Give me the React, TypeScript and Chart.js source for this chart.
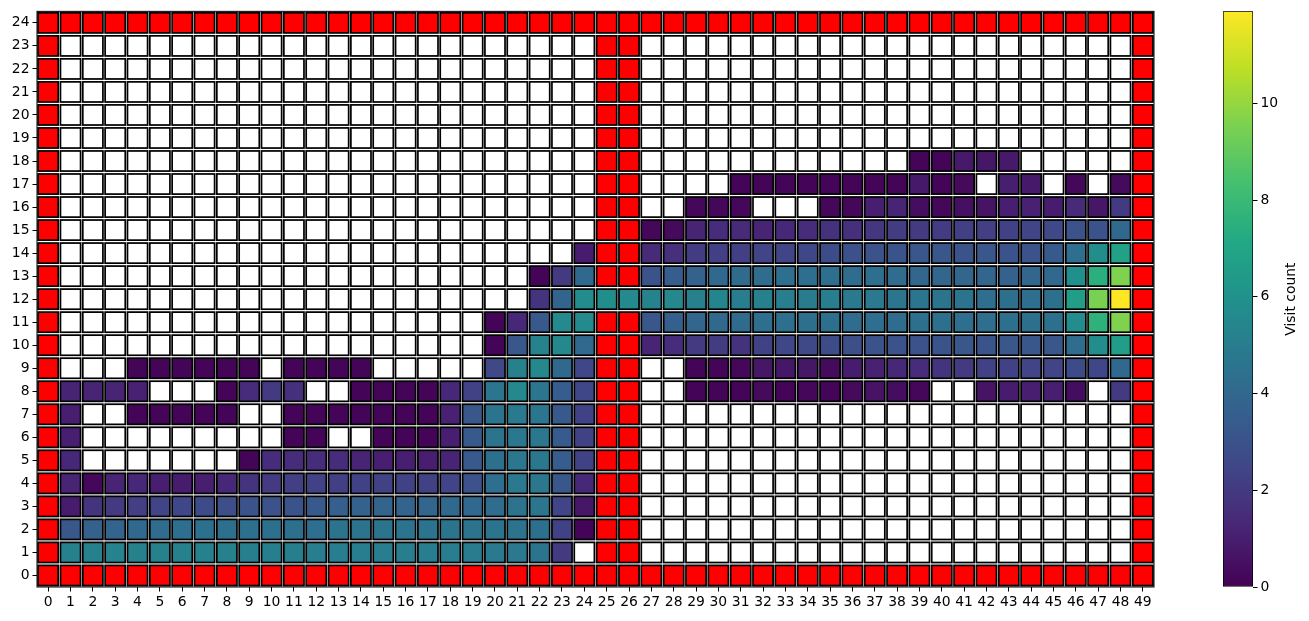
import React, { useEffect, useRef } from "react";
import { Chart, registerables } from "chart.js";
Chart.register(...registerables);

const W = -1; // wall cell
const _ = null; // unvisited cell

const xLabels = ["0","1","2","3","4","5","6","7","8","9","10","11","12","13","14","15","16","17","18","19","20","21","22","23","24","25","26","27","28","29","30","31","32","33","34","35","36","37","38","39","40","41","42","43","44","45","46","47","48","49"];
const yLabels = ["0","1","2","3","4","5","6","7","8","9","10","11","12","13","14","15","16","17","18","19","20","21","22","23","24"];
const colorbarTicks = [0, 2, 4, 6, 8, 10];
const colorMax = 11.9;
const colorbarTitle = "Visit count";

const r24 = [W,W,W,W,W,W,W,W,W,W, W,W,W,W,W,W,W,W,W,W, W,W,W,W,W,W,W,W,W,W, W,W,W,W,W,W,W,W,W,W, W,W,W,W,W,W,W,W,W,W];
const r23 = [W,_,_,_,_,_,_,_,_,_, _,_,_,_,_,_,_,_,_,_, _,_,_,_,_,W,W,_,_,_, _,_,_,_,_,_,_,_,_,_, _,_,_,_,_,_,_,_,_,W];
const r22 = [W,_,_,_,_,_,_,_,_,_, _,_,_,_,_,_,_,_,_,_, _,_,_,_,_,W,W,_,_,_, _,_,_,_,_,_,_,_,_,_, _,_,_,_,_,_,_,_,_,W];
const r21 = [W,_,_,_,_,_,_,_,_,_, _,_,_,_,_,_,_,_,_,_, _,_,_,_,_,W,W,_,_,_, _,_,_,_,_,_,_,_,_,_, _,_,_,_,_,_,_,_,_,W];
const r20 = [W,_,_,_,_,_,_,_,_,_, _,_,_,_,_,_,_,_,_,_, _,_,_,_,_,W,W,_,_,_, _,_,_,_,_,_,_,_,_,_, _,_,_,_,_,_,_,_,_,W];
const r19 = [W,_,_,_,_,_,_,_,_,_, _,_,_,_,_,_,_,_,_,_, _,_,_,_,_,W,W,_,_,_, _,_,_,_,_,_,_,_,_,_, _,_,_,_,_,_,_,_,_,W];
const r18 = [W,_,_,_,_,_,_,_,_,_, _,_,_,_,_,_,_,_,_,_, _,_,_,_,_,W,W,_,_,_, _,_,_,_,_,_,_,_,_,0.1, 0.1,0.8,0.7,0.8,_,_,_,_,_,W];
const r17 = [W,_,_,_,_,_,_,_,_,_, _,_,_,_,_,_,_,_,_,_, _,_,_,_,_,W,W,_,_,_, _,0.1,0.1,0.1,0.1,0.1,0.1,0.1,0.1,0.8, 0.1,0.3,_,1.0,0.8,_,0.2,_,0.3,W];
const r16 = [W,_,_,_,_,_,_,_,_,_, _,_,_,_,_,_,_,_,_,_, _,_,_,_,_,W,W,_,_,0.2, 0.2,0.2,_,_,_,0.2,0.2,1.0,1.2,0.4, 0.2,0.5,0.6,1.0,1.1,0.9,1.4,0.7,2.0,W];
const r15 = [W,_,_,_,_,_,_,_,_,_, _,_,_,_,_,_,_,_,_,_, _,_,_,_,_,W,W,0.2,0.3,1.2, 1.5,1.4,1.2,1.3,1.5,1.7,1.6,1.9,2.1,2.0, 2.1,2.2,2.2,2.3,2.4,2.6,3.0,3.1,4.0,W];
const r14 = [W,_,_,_,_,_,_,_,_,_, _,_,_,_,_,_,_,_,_,_, _,_,_,_,0.9,W,W,1.4,1.6,2.1, 2.2,2.2,2.4,2.4,2.5,2.7,2.9,3.0,3.1,3.2, 3.2,3.1,3.2,3.1,3.0,3.3,4.3,5.8,6.8,W];
const r13 = [W,_,_,_,_,_,_,_,_,_, _,_,_,_,_,_,_,_,_,_, _,_,0.1,2.0,4.0,W,W,3.1,3.5,3.7, 4.0,4.1,4.2,4.3,4.3,4.3,4.2,4.3,4.2,3.9, 3.9,3.9,3.9,3.7,3.9,4.0,5.9,7.5,9.6,W];
const r12 = [W,_,_,_,_,_,_,_,_,_, _,_,_,_,_,_,_,_,_,_, _,_,1.8,3.8,5.7,5.8,5.6,5.3,5.5,5.2, 5.4,5.0,5.2,5.0,4.9,5.0,4.8,4.8,4.6,4.6, 4.5,4.5,4.3,4.4,4.3,4.4,6.6,9.5,11.9,W];
const r11 = [W,_,_,_,_,_,_,_,_,_, _,_,_,_,_,_,_,_,_,_, 0.1,1.3,3.3,5.6,5.6,W,W,3.2,3.6,3.9, 4.0,4.1,4.3,4.4,4.4,4.4,4.2,4.3,4.2,4.4, 4.4,4.3,4.3,4.4,4.4,4.4,5.7,7.6,9.6,W];
const r10 = [W,_,_,_,_,_,_,_,_,_, _,_,_,_,_,_,_,_,_,_, 0.1,3.2,5.3,5.5,4.0,W,W,1.2,1.5,2.0, 2.1,1.7,2.3,2.5,2.6,2.7,2.8,3.0,3.0,3.0, 3.1,3.2,3.1,3.2,3.2,3.2,4.2,5.7,6.6,W];
const r9 = [W,_,_,_,0.1,0.1,0.1,0.1,0.1,0.1, _,0.1,0.1,0.1,0.1,_,_,_,_,_, 2.6,5.2,5.5,4.0,2.5,W,W,_,_,0.1, 0.1,0.2,0.7,0.7,0.7,0.3,0.9,1.1,1.3,1.5, 1.8,2.0,2.3,2.3,2.4,2.4,2.7,2.5,4.0,W];
const r8 = [W,1.2,1.2,1.2,1.1,_,_,_,0.1,1.5, 2.0,1.6,_,_,0.1,0.1,0.1,0.1,1.3,2.3, 4.6,5.5,4.6,3.5,2.5,W,W,_,_,0.1, 0.1,0.1,0.3,0.1,0.2,0.1,0.3,0.6,0.4,0.2, _,_,0.6,0.9,1.0,1.0,0.4,_,2.0,W];
const r7 = [W,1.0,_,_,0.1,0.1,0.1,0.1,0.1,_, _,0.1,0.1,0.1,0.1,0.1,0.1,0.1,1.1,3.2, 4.5,4.8,4.6,3.3,2.3,W,W,_,_,_, _,_,_,_,_,_,_,_,_,_, _,_,_,_,_,_,_,_,_,W];
const r6 = [W,1.0,_,_,_,_,_,_,_,_, _,0.1,0.1,_,_,0.1,0.1,0.1,1.0,3.3, 4.5,4.7,4.7,3.4,2.3,W,W,_,_,_, _,_,_,_,_,_,_,_,_,_, _,_,_,_,_,_,_,_,_,W];
const r5 = [W,1.3,_,_,_,_,_,_,_,0.1, 1.5,1.5,1.5,1.5,1.2,1.0,1.0,1.0,1.2,3.3, 4.4,4.7,4.7,3.5,2.3,W,W,_,_,_, _,_,_,_,_,_,_,_,_,_, _,_,_,_,_,_,_,_,_,W];
const r4 = [W,1.2,0.2,1.2,1.3,1.0,0.9,1.0,1.3,1.8, 2.0,2.2,2.3,2.2,2.3,2.3,2.3,2.3,2.4,3.0, 4.3,4.8,4.7,3.2,1.3,W,W,_,_,_, _,_,_,_,_,_,_,_,_,_, _,_,_,_,_,_,_,_,_,W];
const r3 = [W,0.9,1.8,2.0,2.2,2.4,2.5,2.7,2.8,3.0, 3.0,3.1,3.3,3.6,3.7,3.8,3.8,3.9,4.0,4.0, 4.2,4.5,4.6,2.4,0.7,W,W,_,_,_, _,_,_,_,_,_,_,_,_,_, _,_,_,_,_,_,_,_,_,W];
const r2 = [W,3.2,3.7,3.8,4.0,4.2,4.3,4.4,4.4,4.4, 4.4,4.4,4.3,4.5,4.5,4.5,4.5,4.5,4.5,4.5, 4.5,4.5,4.4,2.3,0.1,W,W,_,_,_, _,_,_,_,_,_,_,_,_,_, _,_,_,_,_,_,_,_,_,W];
const r1 = [W,5.2,5.2,5.3,5.2,5.2,5.2,5.2,5.2,5.1, 5.1,5.1,5.0,5.0,5.0,5.0,5.0,5.0,5.0,4.9, 4.8,4.8,4.5,2.0,_,W,W,_,_,_, _,_,_,_,_,_,_,_,_,_, _,_,_,_,_,_,_,_,_,W];
const r0 = [W,W,W,W,W,W,W,W,W,W, W,W,W,W,W,W,W,W,W,W, W,W,W,W,W,W,W,W,W,W, W,W,W,W,W,W,W,W,W,W, W,W,W,W,W,W,W,W,W,W];

const rows = [r0, r1, r2, r3, r4, r5, r6, r7, r8, r9, r10, r11, r12, r13, r14, r15, r16, r17, r18, r19, r20, r21, r22, r23, r24];

const viridis = ["#440154", "#482475", "#414487", "#355f8d", "#2a788e", "#21918c", "#22a884", "#44bf70", "#7ad151", "#bddf26", "#fde725"];

const FONT = '"DejaVu Sans", "Liberation Sans", sans-serif';

function hexToRgb(h: string) {
  return [parseInt(h.slice(1, 3), 16), parseInt(h.slice(3, 5), 16), parseInt(h.slice(5, 7), 16)];
}
function viridisColor(t: number) {
  const tt = Math.max(0, Math.min(1, t)) * (viridis.length - 1);
  const i = Math.min(viridis.length - 2, Math.floor(tt));
  const f = tt - i;
  const a = hexToRgb(viridis[i]);
  const b = hexToRgb(viridis[i + 1]);
  const c = a.map((v, k) => Math.round(v + (b[k] - v) * f));
  return `rgb(${c[0]},${c[1]},${c[2]})`;
}

function buildPoints(kind: "visit" | "wall" | "empty") {
  const pts: any[] = [];
  rows.forEach((row, r) => {
    row.forEach((v, c) => {
      const isWall = v === W;
      const isEmpty = v === null;
      if ((kind === "wall" && isWall) || (kind === "empty" && isEmpty) || (kind === "visit" && !isWall && !isEmpty)) {
        pts.push({ x: xLabels[c], y: yLabels[r], v });
      }
    });
  });
  return pts;
}

const cellPlugin = {
  id: "cells",
  beforeDatasetsDraw(chart: any) {
    const { ctx, chartArea: a, scales } = chart;
    const xs = scales.x;
    const ys = scales.y;
    const cw = a.width / xLabels.length;
    const ch = a.height / yLabels.length;
    ctx.save();
    ctx.fillStyle = "#c4c4c4";
    ctx.fillRect(a.left, a.top, a.width, a.height);
    ctx.strokeStyle = "#ffffff";
    ctx.lineWidth = 1.3;
    for (let i = 1; i < xLabels.length; i++) {
      const px = xs.getPixelForValue(i) - cw / 2;
      ctx.beginPath();
      ctx.moveTo(px, a.top);
      ctx.lineTo(px, a.bottom);
      ctx.stroke();
    }
    for (let j = 1; j < yLabels.length; j++) {
      const py = ys.getPixelForValue(j) + ch / 2;
      ctx.beginPath();
      ctx.moveTo(a.left, py);
      ctx.lineTo(a.right, py);
      ctx.stroke();
    }
    const s = Math.min(cw, ch) * 0.9;
    chart.data.datasets.forEach((ds: any, di: number) => {
      const meta = chart.getDatasetMeta(di);
      meta.data.forEach((el: any, i: number) => {
        const v = ds.data[i].v;
        let fill = "#ffffff";
        if (ds.kind === "wall") fill = "#ff0000";
        else if (ds.kind === "visit") fill = viridisColor(v / colorMax);
        ctx.fillStyle = fill;
        ctx.fillRect(el.x - s / 2, el.y - s / 2, s, s);
        ctx.strokeStyle = "#000000";
        ctx.lineWidth = 1.7;
        ctx.strokeRect(el.x - s / 2, el.y - s / 2, s, s);
      });
    });
    ctx.restore();
  },
  afterDatasetsDraw(chart: any) {
    const { ctx, chartArea: a } = chart;
    ctx.save();
    ctx.strokeStyle = "#000";
    ctx.lineWidth = 1;
    ctx.strokeRect(a.left, a.top, a.width, a.height);
    ctx.restore();
  },
};

const cbTitlePlugin = {
  id: "cbTitle",
  afterDraw(chart: any) {
    const { ctx, chartArea: a } = chart;
    ctx.save();
    ctx.translate(a.right + 38, (a.top + a.bottom) / 2);
    ctx.rotate(-Math.PI / 2);
    ctx.textAlign = "center";
    ctx.textBaseline = "middle";
    ctx.fillStyle = "#000";
    ctx.font = `13.9px ${FONT}`;
    ctx.fillText(colorbarTitle, 0, 0);
    ctx.restore();
  },
};

export default function App() {
  const mainRef = useRef<HTMLCanvasElement>(null);
  const cbRef = useRef<HTMLCanvasElement>(null);

  useEffect(() => {
    const tickFont = { family: FONT, size: 13.9 };
    const gridOpts = {
      display: true,
      drawOnChartArea: false,
      drawTicks: true,
      tickLength: 4.5,
      color: "#000",
      lineWidth: 1,
      offset: false,
    };
    const main = new Chart(mainRef.current as HTMLCanvasElement, {
      type: "scatter",
      data: {
        datasets: [
          { label: "wall", kind: "wall", data: buildPoints("wall"), pointRadius: 0, pointHoverRadius: 0 } as any,
          { label: "unvisited", kind: "empty", data: buildPoints("empty"), pointRadius: 0, pointHoverRadius: 0 } as any,
          { label: colorbarTitle, kind: "visit", data: buildPoints("visit"), pointRadius: 0, pointHoverRadius: 0 } as any,
        ],
      },
      options: {
        animation: false,
        responsive: false,
        events: [],
        layout: { padding: { left: 0, top: 10, right: 11, bottom: 0 } },
        plugins: { legend: { display: false }, tooltip: { enabled: false } },
        scales: {
          x: {
            type: "category",
            labels: xLabels,
            offset: true,
            grid: gridOpts,
            border: { display: false },
            ticks: { autoSkip: false, maxRotation: 0, minRotation: 0, padding: 3, color: "#000", font: tickFont },
            afterFit: (s: any) => { s.height = 34; },
          } as any,
          y: {
            type: "category",
            labels: yLabels,
            reverse: true,
            offset: true,
            grid: gridOpts,
            border: { display: false },
            ticks: { autoSkip: false, padding: 3, color: "#000", font: tickFont },
            afterFit: (s: any) => { s.width = 37; },
          } as any,
        },
      },
      plugins: [cellPlugin],
    });

    const cb = new Chart(cbRef.current as HTMLCanvasElement, {
      type: "bar",
      data: {
        labels: [""],
        datasets: [
          {
            label: colorbarTitle,
            data: [[0, colorMax]] as any,
            backgroundColor: (c: any) => {
              const a = c.chart.chartArea;
              if (!a) return viridis[5];
              const g = c.chart.ctx.createLinearGradient(0, a.bottom, 0, a.top);
              viridis.forEach((col, i) => g.addColorStop(i / (viridis.length - 1), col));
              return g;
            },
            borderColor: "#000",
            borderWidth: 1,
            borderSkipped: false,
            barPercentage: 1,
            categoryPercentage: 1,
          } as any,
        ],
      },
      options: {
        animation: false,
        responsive: false,
        events: [],
        layout: { padding: { left: 33, top: 10, right: 0, bottom: 34 } },
        plugins: { legend: { display: false }, tooltip: { enabled: false } },
        scales: {
          x: { display: false },
          y: {
            position: "right",
            min: 0,
            max: colorMax,
            grid: { ...gridOpts },
            border: { display: false },
            ticks: { padding: 3, color: "#000", font: tickFont },
            afterBuildTicks: (s: any) => { s.ticks = colorbarTicks.map((v) => ({ value: v })); },
            afterFit: (s: any) => { s.width = 56; },
          } as any,
        },
      },
      plugins: [cbTitlePlugin],
    });

    return () => {
      main.destroy();
      cb.destroy();
    };
  }, []);

  return (
    <div style={{ position: "fixed", left: 0, top: 0, width: 1309, height: 621, background: "#fff" }}>
      <canvas ref={mainRef} width={1165} height={621} style={{ position: "absolute", left: 0, top: 0, display: "block" }} />
      <canvas ref={cbRef} width={119} height={621} style={{ position: "absolute", left: 1190, top: 0, display: "block" }} />
    </div>
  );
}
